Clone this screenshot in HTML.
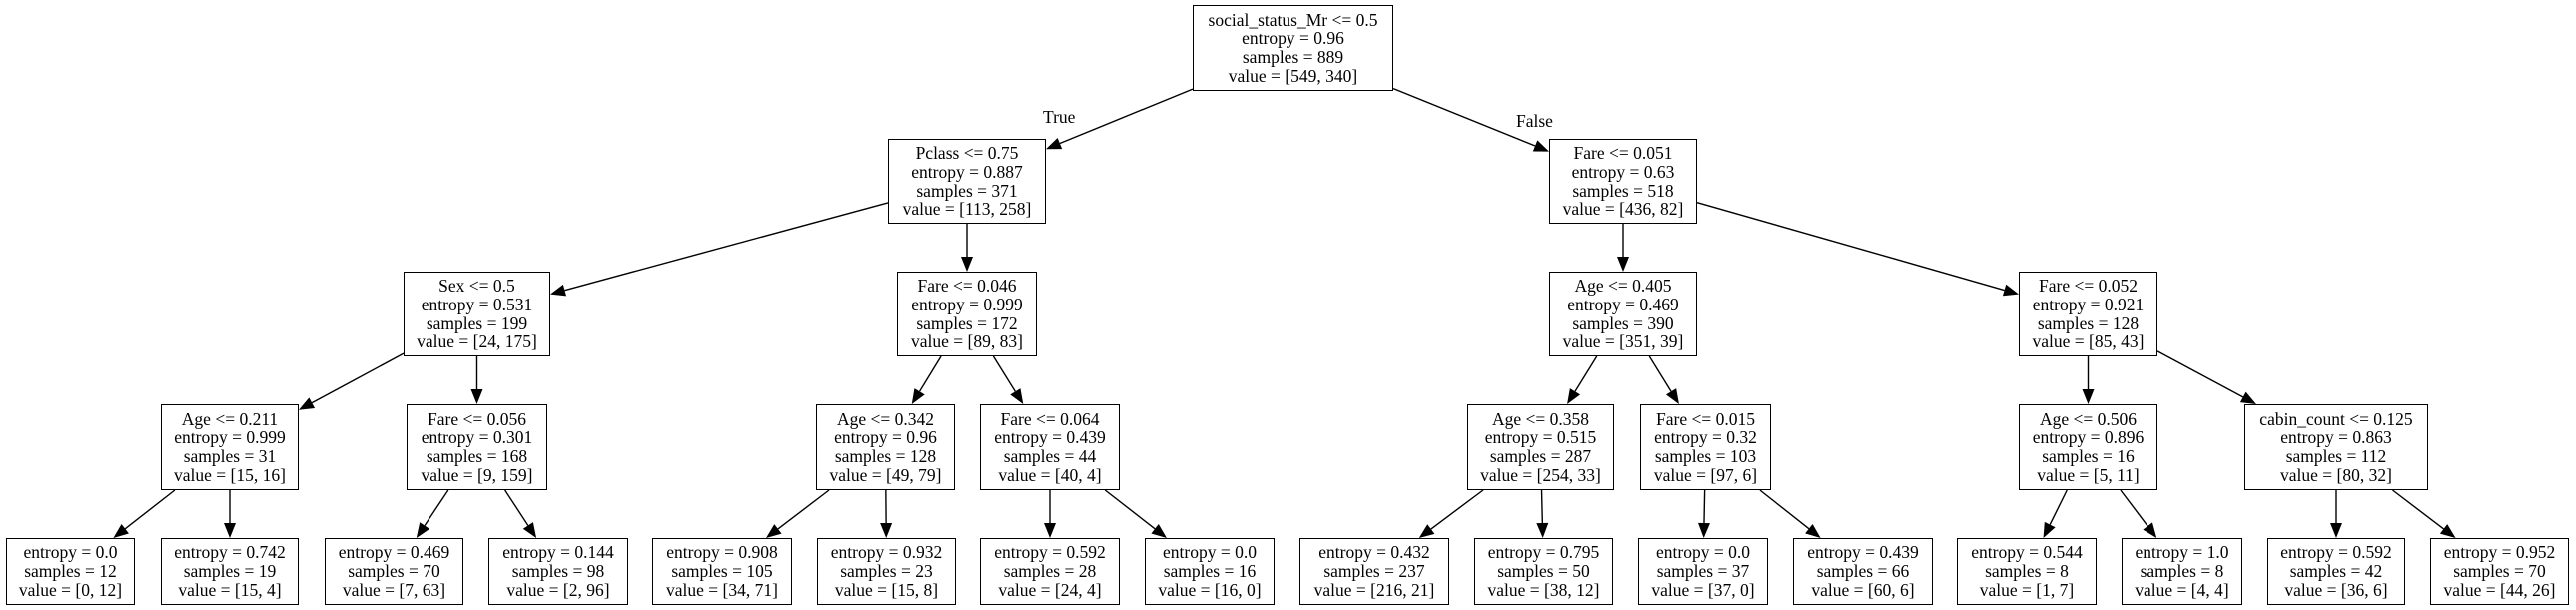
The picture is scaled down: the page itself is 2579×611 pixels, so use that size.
<!DOCTYPE html>
<html><head><meta charset="utf-8"><style>
html,body{margin:0;padding:0;background:#fff;}
body{width:2579px;height:611px;position:relative;overflow:hidden;font-family:"Liberation Serif",serif;}
.n{position:absolute;box-sizing:border-box;border:1.5px solid #000;display:flex;align-items:center;justify-content:center;text-align:center;font-size:17.5px;line-height:18.7px;color:#000;white-space:nowrap;}
.l{position:absolute;font-size:17.5px;}
svg{position:absolute;left:0;top:0;}
</style></head><body>
<svg id="s" width="2579" height="611"></svg>
<div id="c"></div>
<div class="l" style="left:1044px;top:107px">True</div>
<div class="l" style="left:1518px;top:111px">False</div>
<script>
var Y=[[5,91],[139,224],[272,357],[405,491],[539,606]];
var N=[
["root",0,1194,1395,"social_status_Mr &lt;= 0.5<br>entropy = 0.96<br>samples = 889<br>value = [549, 340]"],
["p",1,889,1047,"Pclass &lt;= 0.75<br>entropy = 0.887<br>samples = 371<br>value = [113, 258]"],
["f051",1,1551,1699,"Fare &lt;= 0.051<br>entropy = 0.63<br>samples = 518<br>value = [436, 82]"],
["sex",2,404,551,"Sex &lt;= 0.5<br>entropy = 0.531<br>samples = 199<br>value = [24, 175]"],
["f046",2,898,1038,"Fare &lt;= 0.046<br>entropy = 0.999<br>samples = 172<br>value = [89, 83]"],
["a405",2,1551,1699,"Age &lt;= 0.405<br>entropy = 0.469<br>samples = 390<br>value = [351, 39]"],
["f052",2,2021,2160,"Fare &lt;= 0.052<br>entropy = 0.921<br>samples = 128<br>value = [85, 43]"],
["a211",3,161,299,"Age &lt;= 0.211<br>entropy = 0.999<br>samples = 31<br>value = [15, 16]"],
["f056",3,407,548,"Fare &lt;= 0.056<br>entropy = 0.301<br>samples = 168<br>value = [9, 159]"],
["a342",3,817,956,"Age &lt;= 0.342<br>entropy = 0.96<br>samples = 128<br>value = [49, 79]"],
["f064",3,981,1121,"Fare &lt;= 0.064<br>entropy = 0.439<br>samples = 44<br>value = [40, 4]"],
["a358",3,1469,1616,"Age &lt;= 0.358<br>entropy = 0.515<br>samples = 287<br>value = [254, 33]"],
["f015",3,1642,1773,"Fare &lt;= 0.015<br>entropy = 0.32<br>samples = 103<br>value = [97, 6]"],
["a506",3,2021,2160,"Age &lt;= 0.506<br>entropy = 0.896<br>samples = 16<br>value = [5, 11]"],
["cab",3,2247,2431,"cabin_count &lt;= 0.125<br>entropy = 0.863<br>samples = 112<br>value = [80, 32]"],
["l1",4,6,135,"entropy = 0.0<br>samples = 12<br>value = [0, 12]","a211"],
["l2",4,161,299,"entropy = 0.742<br>samples = 19<br>value = [15, 4]","a211"],
["l3",4,325,464,"entropy = 0.469<br>samples = 70<br>value = [7, 63]","f056"],
["l4",4,489,629,"entropy = 0.144<br>samples = 98<br>value = [2, 96]","f056"],
["l5",4,653,793,"entropy = 0.908<br>samples = 105<br>value = [34, 71]","a342"],
["l6",4,818,957,"entropy = 0.932<br>samples = 23<br>value = [15, 8]","a342"],
["l7",4,981,1121,"entropy = 0.592<br>samples = 28<br>value = [24, 4]","f064"],
["l8",4,1146,1276,"entropy = 0.0<br>samples = 16<br>value = [16, 0]","f064"],
["l9",4,1301,1451,"entropy = 0.432<br>samples = 237<br>value = [216, 21]","a358"],
["l10",4,1476,1615,"entropy = 0.795<br>samples = 50<br>value = [38, 12]","a358"],
["l11",4,1640,1770,"entropy = 0.0<br>samples = 37<br>value = [37, 0]","f015"],
["l12",4,1795,1935,"entropy = 0.439<br>samples = 66<br>value = [60, 6]","f015"],
["l13",4,1959,2099,"entropy = 0.544<br>samples = 8<br>value = [1, 7]","a506"],
["l14",4,2124,2245,"entropy = 1.0<br>samples = 8<br>value = [4, 4]","a506"],
["l15",4,2270,2408,"entropy = 0.592<br>samples = 42<br>value = [36, 6]","cab"],
["l16",4,2433,2572,"entropy = 0.952<br>samples = 70<br>value = [44, 26]","cab"]];
var P={p:"root",f051:"root",sex:"p",f046:"p",a405:"f051",f052:"f051",a211:"sex",f056:"sex",a342:"f046",f064:"f046",a358:"a405",f015:"a405",a506:"f052",cab:"f052"};
var B={},h="";
N.forEach(function(n){var y=Y[n[1]];B[n[0]]={x0:n[2],x1:n[3],y0:y[0],y1:y[1]};
h+='<div class="n" style="left:'+n[2]+'px;top:'+y[0]+'px;width:'+(n[3]-n[2])+'px;height:'+(y[1]-y[0])+'px">'+n[4]+'</div>';if(n[5])P[n[0]]=n[5];});
document.getElementById('c').innerHTML=h;
function clip(b,cx,cy,dx,dy){var t=1e9;if(dx)t=Math.min(t,Math.abs(((dx>0?b.x1:b.x0)-cx)/dx));if(dy)t=Math.min(t,Math.abs(((dy>0?b.y1:b.y0)-cy)/dy));return [cx+dx*t,cy+dy*t];}
var s="";
for(var k in P){var a=B[P[k]],b=B[k];var ax=(a.x0+a.x1)/2,ay=(a.y0+a.y1)/2,bx=(b.x0+b.x1)/2,by=(b.y0+b.y1)/2;
var dx=bx-ax,dy=by-ay;var p1=clip(a,ax,ay,dx,dy),p2=clip(b,bx,by,-dx,-dy);
var L=Math.hypot(p2[0]-p1[0],p2[1]-p1[1]),ux=(p2[0]-p1[0])/L,uy=(p2[1]-p1[1])/L,al=15,aw=6;
var qx=p2[0]-ux*al,qy=p2[1]-uy*al;
s+='<line x1="'+p1[0]+'" y1="'+p1[1]+'" x2="'+qx+'" y2="'+qy+'" stroke="#000" stroke-width="1.4"/>';
s+='<polygon points="'+p2[0]+','+p2[1]+' '+(qx-uy*aw)+','+(qy+ux*aw)+' '+(qx+uy*aw)+','+(qy-ux*aw)+'" fill="#000"/>';}
document.getElementById('s').innerHTML=s;
</script>
</body></html>
